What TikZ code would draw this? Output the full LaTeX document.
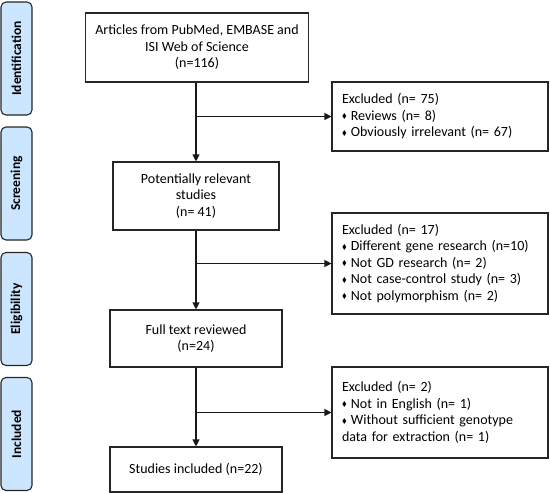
\documentclass[tikz,border=0pt]{standalone}
\usepackage{fontspec}
\setmainfont{Carlito}
\usepackage{amssymb}
\usetikzlibrary{arrows.meta}
\newcommand{\bul}{\raisebox{0.25ex}{\scalebox{0.5}{$\blacklozenge$}}\hspace{0.3em}}
\begin{document}
\begin{tikzpicture}[x=1pt,y=-1pt,
  font=\fontsize{14}{16.5}\selectfont,
  mainbox/.style={draw=black!85,line width=1.1pt,align=center,inner sep=0pt},
  exbox/.style={draw=black!85,line width=1.1pt,align=left,inner sep=0pt,minimum width=216pt,text width=196pt},
  side/.style={draw=black!85,fill=sidefill,line width=1.1pt,rounded corners=5pt,minimum width=31pt,minimum height=113pt,inner sep=0pt},
  sidetext/.style={rotate=90,font=\fontsize{13.5}{15}\selectfont\bfseries},
  conn/.style={line width=1.1pt,draw=black!90},
  arr/.style={conn,-{Triangle[length=7pt,width=7pt]}}]
\definecolor{sidefill}{HTML}{CCE6FF}
\useasboundingbox (0,0) rectangle (550,493);
% side labels
\node[side] (s1) at (16.5,58.5) {};
\node[sidetext] (t1) at (s1.center) {Identification};
\node[side] (s2) at (16.5,183.5) {};
\node[sidetext] (t2) at (s2.center) {Screening};
\node[side] (s3) at (16.5,309) {};
\node[sidetext] (t3) at (s3.center) {Eligibility};
\node[side] (s4) at (16.5,434) {};
\node[sidetext] (t4) at (s4.center) {Included};
% main boxes
\node[mainbox,minimum width=223pt,minimum height=69pt] (b1) at (197,47.5) {Articles from PubMed, EMBASE and\\ISI Web of Science\\(n=116)};
\node[mainbox,minimum width=166pt,minimum height=68pt] (b2) at (196,196) {Potentially relevant\\studies\\(n= 41)};
\node[mainbox,minimum width=172pt,minimum height=57pt] (b3) at (196,338.5) {Full text reviewed\\(n=24)};
\node[mainbox,minimum width=172pt,minimum height=45pt] (b4) at (196,469.5) {Studies included (n=22)};
% excluded boxes
\node[exbox,minimum height=69pt] (e1) at (440,116.5) {Excluded (n= 75)\\\bul Reviews (n= 8)\\\bul Obviously irrelevant (n= 67)};
\node[exbox,minimum height=101pt] (e2) at (440,263.5) {Excluded (n= 17)\\\bul Different gene research (n=10)\\\bul Not GD research (n= 2)\\\bul Not case-control study (n= 3)\\\bul Not polymorphism (n= 2)};
\node[exbox,minimum height=91pt] (e3) at (440,412.5) {Excluded (n= 2)\\\bul Not in English (n= 1)\\\bul Without sufficient genotype\\data for extraction (n= 1)};
% connectors
\coordinate (j1) at (b1.south |- e1.west);
\coordinate (j2) at (b2.south |- e2.west);
\coordinate (j3) at (b3.south |- e3.west);
\draw[arr] (b1.south -| b2.north) -- (b2.north);
\draw[arr] (j1 -| b2.north) -- (e1.west);
\draw[arr] (b2.south) -- (b3.north);
\draw[arr] (j2) -- (e2.west);
\draw[arr] (b3.south) -- (b4.north);
\draw[arr] (j3) -- (e3.west);
\end{tikzpicture}
\end{document}
